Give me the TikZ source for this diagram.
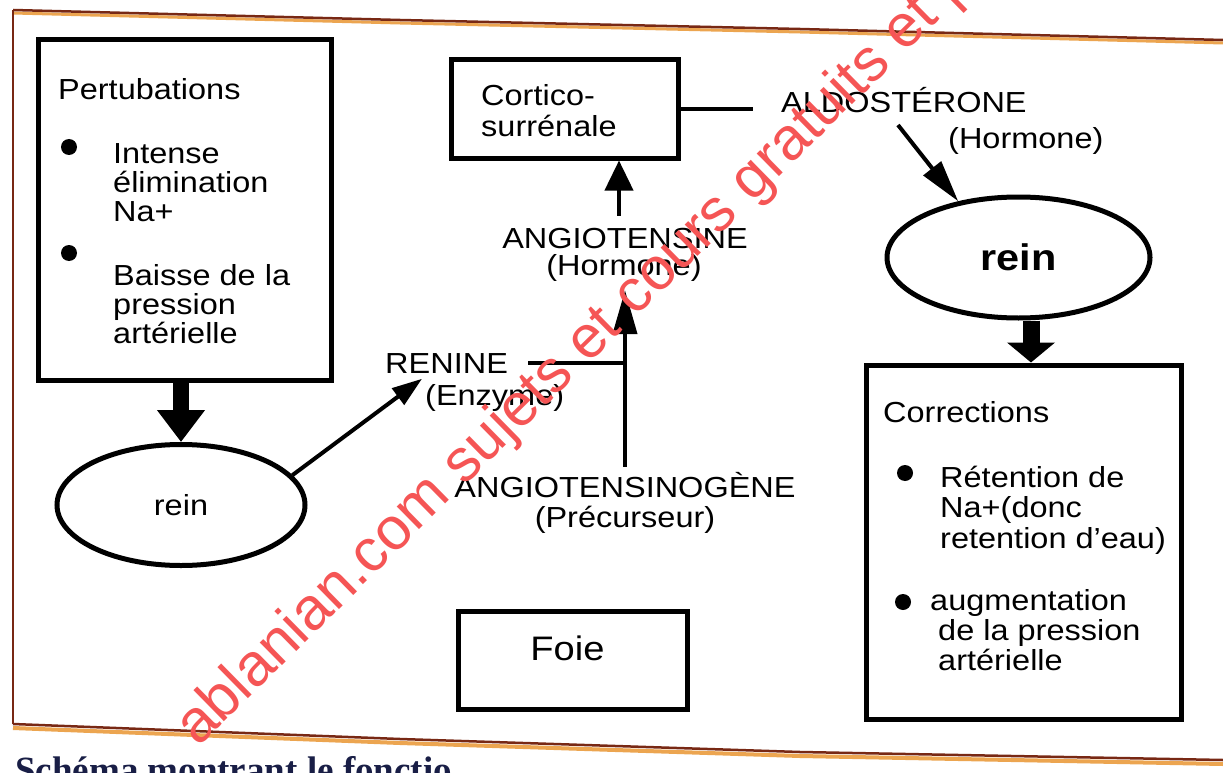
\documentclass[tikz,border=0pt]{standalone}
\usepackage{fontspec}
\setmainfont{Liberation Sans}[FakeStretch=1.12]
\newfontfamily\wmfont{Liberation Sans}
\newfontfamily\capfont{Liberation Serif}
\usetikzlibrary{arrows.meta,shapes.geometric}
\definecolor{framebrown}{RGB}{120,40,20}
\definecolor{frameorange}{RGB}{236,165,80}
\definecolor{wmred}{RGB}{245,85,85}
\definecolor{capnavy}{RGB}{25,30,70}
\newcommand\mybody{\fontsize{29}{30}\selectfont}
\begin{document}
\begin{tikzpicture}[x=1pt,y=-1pt,
  txt/.style={inner sep=0pt, font=\mybody, anchor=base west},
  ctxt/.style={inner sep=0pt, font=\mybody, anchor=base},
  boxst/.style={draw, rectangle, line width=5pt, inner sep=0pt},
  ellst/.style={draw, ellipse, line width=5pt, inner sep=0pt},
  conn/.style={line width=4pt},
  bulletst/.style={circle, fill, inner sep=0pt, minimum size=16pt},
  thickarrow/.style={line width=16pt, -{Triangle[length=32pt,width=46pt]}},
  thickarrowb/.style={line width=17pt, -{Triangle[length=20pt,width=47pt]}}
]
\useasboundingbox (0,0) rectangle (1223,773);
\fill[white] (0,0) rectangle (1223,773);

% page frame
\draw[frameorange, line width=3pt] (13,13) -- (400,23) -- (800,32) -- (1223,43);
\draw[framebrown, line width=2.5pt] (13,10) -- (400,20) -- (800,29) -- (1223,40);
\draw[framebrown, line width=2pt] (13,10) -- (13,724);
\draw[frameorange, line width=4pt] (13,728) -- (400,743) -- (800,756) -- (1223,764);
\draw[framebrown, line width=2.5pt] (13,724) -- (400,739) -- (800,752) -- (1223,760);

% Pertubations
\node[boxst, minimum width=293pt, minimum height=340pt] (pert) at (184.5,210) {};
\node[txt] (pt) at (58,100) {Pertubations};
\node[bulletst] (pb1) at (69,147) {};
\node[txt] (p1a) at (113,163) {Intense};
\node[txt] (p1b) at (113,192) {élimination};
\node[txt] (p1c) at (113,221) {Na+};
\node[bulletst] (pb2) at (69,253) {};
\node[txt] (p2a) at (113,285) {Baisse de la};
\node[txt] (p2b) at (113,314) {pression};
\node[txt] (p2c) at (113,343) {artérielle};

% left kidney
\node[ellst, minimum width=248pt, minimum height=121pt, font=\mybody] (reinL) at (181,505) {rein};
\draw[thickarrow] (reinL.north |- pert.south) -- (reinL.north);

% renine
\node[txt] (ren) at (385,373) {RENINE};
\node[txt] (enz) at (425,405) {(Enzyme)};
\coordinate (rtip) at ([shift={(-3,-5)}]enz.north west);
\draw[conn, -{Triangle[length=30pt,width=20pt]}] (reinL.15) -- (rtip);

% angiotensinogene / angiotensine
\node[ctxt] (ago1) at (625,497) {ANGIOTENSINOGÈNE};
\node[ctxt] (ago2) at (625,527) {(Précurseur)};
\node[ctxt] (ang1) at (625,248) {ANGIOTENSINE};
\node[ctxt] (ang2) at (624,275) {(Hormone)};
\coordinate (lowtop) at ([yshift=-9pt]ang2.south -| ago1.north);
\draw[conn, -{Triangle[length=44pt,width=24pt]}] ([yshift=5pt]ago1.north) -- (lowtop);
\draw[conn] ([xshift=20pt]ren.east) -- (ren.east -| ago1.north);

% cortico-surrenale
\node[boxst, minimum width=227pt, minimum height=98pt] (cort) at (564.5,109) {};
\node[txt] (c1) at (481,106) {Cortico-};
\node[txt] (c2) at (481,137) {surrénale};
\coordinate (a1) at ([shift={(-6,-12)}]ang1.north);
\draw[conn, -{Triangle[length=30pt,width=28pt]}] (a1) -- (a1 |- cort.south);

% aldosterone
\node[txt] (aldo) at (781,113) {ALDOSTÉRONE};
\node[txt] (aldoh) at (948,148) {(Hormone)};
\draw[conn, shorten >=28pt] (cort.east) -- (cort.east -| aldo.west);

% right kidney
\node[ellst, minimum width=263pt, minimum height=121pt, font=\fontsize{37}{40}\selectfont\bfseries] (reinR) at (1018.5,257.5) {rein};
\draw[conn, -{Triangle[length=42pt,width=22pt]}] ([shift={(117,12)}]aldo.base west) -- (reinR.137);

% corrections
\node[boxst, minimum width=315pt, minimum height=354pt] (corr) at (1023.5,542) {};
\coordinate (ra) at ([xshift=12.5pt]reinR.south);
\draw[thickarrowb] (ra) -- (ra |- corr.north);
\node[txt] (ct) at (883,422) {Corrections};
\node[bulletst] (cb1) at (905,473) {};
\node[txt] (c1a) at (940,487) {Rétention de};
\node[txt] (c1b) at (940,517) {Na+(donc};
\node[txt] (c1c) at (940,548) {retention d'eau)};
\node[bulletst] (cb2) at (903,602) {};
\node[txt] (c2a) at (930,610) {augmentation};
\node[txt] (c2b) at (938,640) {de la pression};
\node[txt] (c2c) at (938,670) {artérielle};

% foie
\node[boxst, minimum width=229pt, minimum height=98pt] (foie) at (572.5,660.5) {};
\node[inner sep=0pt, anchor=base, font=\fontsize{34}{36}\selectfont] (foiet) at (567.5,660) {Foie};

% caption (cut by the page edge)
\node[anchor=base west, inner sep=0pt, font=\capfont\bfseries\fontsize{37}{40}\selectfont, text=capnavy] (cap) at (15,782) {Schéma montrant le fonctio};

% watermark
\node[inner sep=0pt, anchor=base west, rotate=44.5, font=\wmfont\fontsize{60}{60}\selectfont, text=wmred] (wm) at (198,748) {ablanian.com sujets et cours gratuits et p};
\end{tikzpicture}
\end{document}
